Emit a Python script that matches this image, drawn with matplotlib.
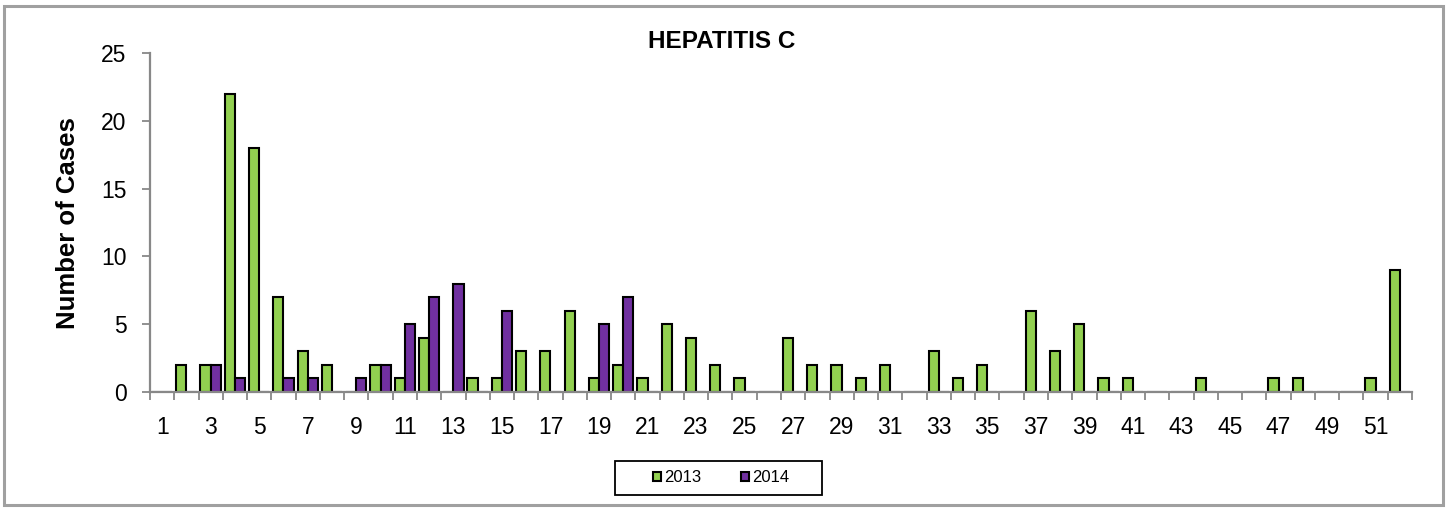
import matplotlib
matplotlib.use("Agg")
import matplotlib.pyplot as plt
from matplotlib.patches import Rectangle
import numpy as np

plt.rcParams['font.family'] = ['Liberation Sans', 'DejaVu Sans']

weeks = list(range(1, 53))
cases_2013 = [0, 2, 2, 22, 18, 7, 3, 2, 0, 2,
              1, 4, 0, 1, 1, 3, 3, 6, 1, 2,
              1, 5, 4, 2, 1, 0, 4, 2, 2, 1,
              2, 0, 3, 1, 2, 0, 6, 3, 5, 1,
              1, 0, 0, 1, 0, 0, 1, 1, 0, 0,
              1, 9]
cases_2014 = [0, 0, 2, 1, 0, 1, 1, 0, 1, 2,
              5, 7, 8, 0, 6, 0, 0, 0, 5, 7] + [0] * 32
tick_labels = [str(w) for w in weeks[::2]]

W, H = 1448, 508
fig = plt.figure(figsize=(W/100, H/100), dpi=100)
ax = fig.add_axes([150/W, 1 - 392/H, (1412-150)/W, (392-53)/H])

x = np.arange(len(weeks))
w = 0.42
ax.bar(x - w/2, cases_2013, width=w, color='#92D050', edgecolor='black', linewidth=1.5, label='2013')
ax.bar(x + w/2, cases_2014, width=w, color='#7030A0', edgecolor='black', linewidth=1.5, label='2014')

ax.set_xlim(-0.5, len(weeks) - 0.5)
ax.set_ylim(0, 25)
ax.set_yticks([0, 5, 10, 15, 20, 25])
ax.set_xticks(x[::2])
ax.set_xticklabels(tick_labels)
ax.set_xticks(np.arange(-0.5, len(weeks)), minor=True)
ax.tick_params(axis='x', which='major', length=0, pad=17, labelsize=16.5)
ax.tick_params(axis='x', which='minor', length=6, width=1.3, color='#888888', direction='out')
ax.tick_params(axis='y', length=6, width=1.3, color='#888888', labelsize=16.5, pad=11)

for s in ['top', 'right']:
    ax.spines[s].set_visible(False)
for s in ['left', 'bottom']:
    ax.spines[s].set_color('#888888')
    ax.spines[s].set_linewidth(1.6)

fig.text(68/W, 1 - 223/H, 'Number of Cases', rotation=90, ha='center', va='center',
         fontsize=18.5, fontweight='bold')
fig.text(722/W, 1 - 48/H, 'HEPATITIS C', ha='center', va='baseline', fontsize=17.5, fontweight='bold')

leg = fig.legend(loc='center', bbox_to_anchor=(721/W, 1 - 478/H), ncol=2, frameon=False,
                 fontsize=12, handlelength=0.5, handleheight=0.5,
                 handletextpad=0.15, columnspacing=2.4, borderpad=0, borderaxespad=0)
for hnd in leg.legend_handles:
    hnd.set_linewidth(1.5)

fig.patches.append(Rectangle((615/W, 1 - 495/H), 207/W, 34/H, transform=fig.transFigure,
                             fill=False, edgecolor='black', linewidth=1.3))
fig.patches.append(Rectangle((4/W, 3/H), 1439/W, 499/H, transform=fig.transFigure,
                             fill=False, edgecolor='#A0A0A0', linewidth=2.2))

fig.savefig('out.png', dpi=100)
